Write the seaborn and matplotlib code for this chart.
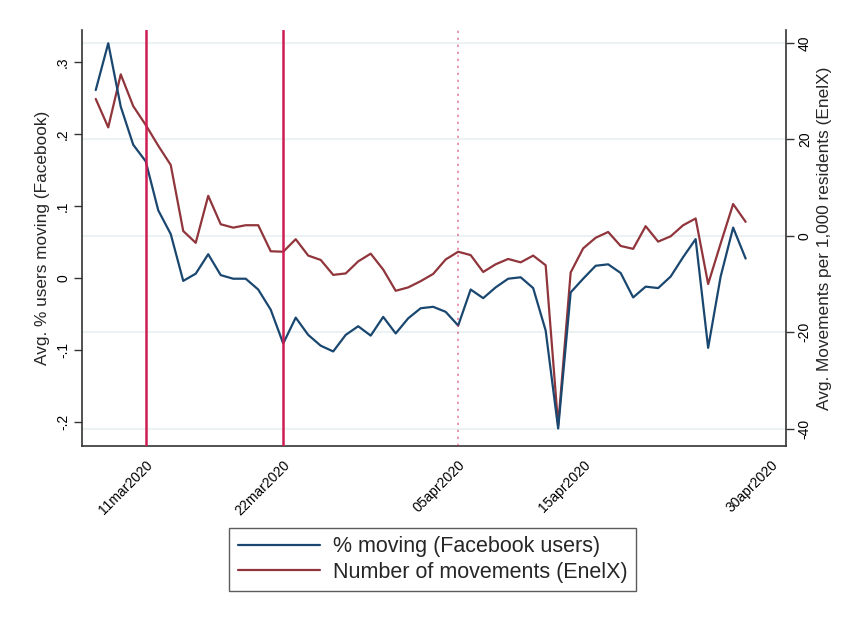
import numpy as np
import pandas as pd
import matplotlib
matplotlib.use("Agg")
import matplotlib.pyplot as plt
import matplotlib.dates as mdates
import seaborn as sns

# ---------------- data ----------------
start_date = "2020-03-07"
facebook_pct = [0.261, 0.326, 0.238, 0.185, 0.162, 0.094, 0.061, -0.004, 0.006, 0.033,
                0.004, -0.001, -0.001, -0.016, -0.044, -0.091, -0.055, -0.079, -0.094, -0.102,
                -0.079, -0.067, -0.080, -0.054, -0.077, -0.056, -0.042, -0.040, -0.047, -0.066,
                -0.016, -0.028, -0.013, -0.001, 0.001, -0.014, -0.073, -0.209, -0.020, -0.001,
                0.017, 0.019, 0.007, -0.027, -0.012, -0.014, 0.002, 0.029, 0.054, -0.097,
                0.002, 0.070, 0.027]
enelx_moves = [28.4, 22.5, 33.5, 26.9, 23.0, 18.7, 14.7, 1.0, -1.45, 8.3,
               2.4, 1.7, 2.2, 2.2, -3.2, -3.3, -0.7, -4.1, -5.0, -8.1,
               -7.8, -5.3, -3.7, -7.0, -11.4, -10.7, -9.4, -7.9, -4.9, -3.3,
               -4.0, -7.5, -5.9, -4.8, -5.5, -4.1, -6.1, -39.3, -7.6, -2.6,
               -0.4, 0.8, -2.1, -2.7, 2.0, -1.2, -0.1, 2.2, 3.6, -10.0,
               -1.6, 6.6, 2.9]
dates = pd.date_range(start_date, periods=len(facebook_pct), freq="D")

x_tick_dates = ["2020-03-11", "2020-03-22", "2020-04-05", "2020-04-15", "2020-04-30"]
x_tick_labels = ["11mar2020", "22mar2020", "05apr2020", "15apr2020", "30apr2020"]
left_ticks = [-0.2, -0.1, 0.0, 0.1, 0.2, 0.3]
left_tick_labels = ["-.2", "-.1", "0", ".1", ".2", ".3"]
right_ticks = [-40, -20, 0, 20, 40]
solid_event_dates = ["2020-03-11", "2020-03-22"]
dotted_event_dates = ["2020-04-05"]

label_fb = "% moving (Facebook users)"
label_enel = "Number of movements (EnelX)"

df = pd.DataFrame({"date": dates, "fb": facebook_pct, "enel": enelx_moves})

# ---------------- style ----------------
sns.set_style("white")
plt.rcParams["font.family"] = ["Liberation Sans", "DejaVu Sans"]

BLUE = "#1A476F"
RED = "#90353B"
VLINE = "#CF1D52"
AXC = "#333333"

W, H = 843, 618
fig = plt.figure(figsize=(W / 100, H / 100), dpi=100)
ax = fig.add_axes([82 / W, 1 - 446 / H, (786 - 82) / W, (446 - 30) / H])
ax2 = ax.twinx()
ax.set_zorder(2)
ax2.set_zorder(1)
ax.patch.set_visible(False)

sns.lineplot(data=df, x="date", y="fb", ax=ax, color=BLUE, lw=1.6, label=label_fb, legend=False)
sns.lineplot(data=df, x="date", y="enel", ax=ax2, color=RED, lw=1.6, label=label_enel, legend=False)

for d in solid_event_dates:
    ax.axvline(pd.Timestamp(d), color=VLINE, lw=1.8, zorder=3)
for d in dotted_event_dates:
    ax.axvline(pd.Timestamp(d), color=VLINE, lw=1.4, alpha=0.45, ls=(0, (1.2, 2.4)), zorder=3)

# limits
x0 = pd.Timestamp(start_date) - pd.Timedelta(days=1.1)
x1 = pd.Timestamp("2020-04-30") + pd.Timedelta(days=1.23)
ax.set_xlim(x0, x1)
ax.set_ylim(-0.2333, 0.3444)
ax2.set_ylim(-43.6, 42.7)

# grid on right axis
ax2.set_yticks(right_ticks)
ax2.yaxis.grid(True, color="#EAF2F3", lw=1.5)
ax2.set_axisbelow(True)
ax.grid(False)
ax.xaxis.grid(False)
ax2.xaxis.grid(False)

# ticks
ax.set_xticks([pd.Timestamp(d) for d in x_tick_dates])
ax.set_xticklabels(x_tick_labels, rotation=45, ha="right", rotation_mode="anchor", fontsize=10)
ax.set_yticks(left_ticks)
ax.set_yticklabels(left_tick_labels, rotation=90, va="center", fontsize=10)
ax2.set_yticklabels([str(t) for t in right_ticks], rotation=90, va="center", fontsize=10)

for a in (ax, ax2):
    a.tick_params(axis="both", which="major", direction="out", length=5.5, width=1.0,
                  color=AXC, labelcolor="black", pad=3)
    a.set_xlabel("")

ax.set_ylabel("Avg. % users moving (Facebook)", fontsize=12.4, labelpad=4.5)
ax2.set_ylabel("Avg. Movements per 1,000 residents (EnelX)", fontsize=12.4, labelpad=4)

# spines
for a in (ax, ax2):
    for s in a.spines.values():
        s.set_visible(False)
ax.spines["left"].set_visible(True)
ax.spines["bottom"].set_visible(True)
ax2.spines["right"].set_visible(True)
for s in (ax.spines["left"], ax.spines["bottom"], ax2.spines["right"]):
    s.set_color(AXC)
    s.set_linewidth(1.2)
ax2.tick_params(axis="x", bottom=False, labelbottom=False)
ax.tick_params(axis="y", right=False)

# legend
h1, l1 = ax.get_legend_handles_labels()
h2, l2 = ax2.get_legend_handles_labels()
leg = fig.legend(h1 + h2, l1 + l2, loc="center",
                 bbox_to_anchor=((225 + 640) / 2 / W, 1 - (524 + 595) / 2 / H),
                 fontsize=15.5, frameon=True, fancybox=False, edgecolor="#333333",
                 handlelength=3.8, handletextpad=0.6, borderpad=0.4, labelspacing=0.2,
                 borderaxespad=0)
leg.get_frame().set_linewidth(1.0)
for line in leg.get_lines():
    line.set_linewidth(1.6)

fig.savefig("out.png", dpi=100)
